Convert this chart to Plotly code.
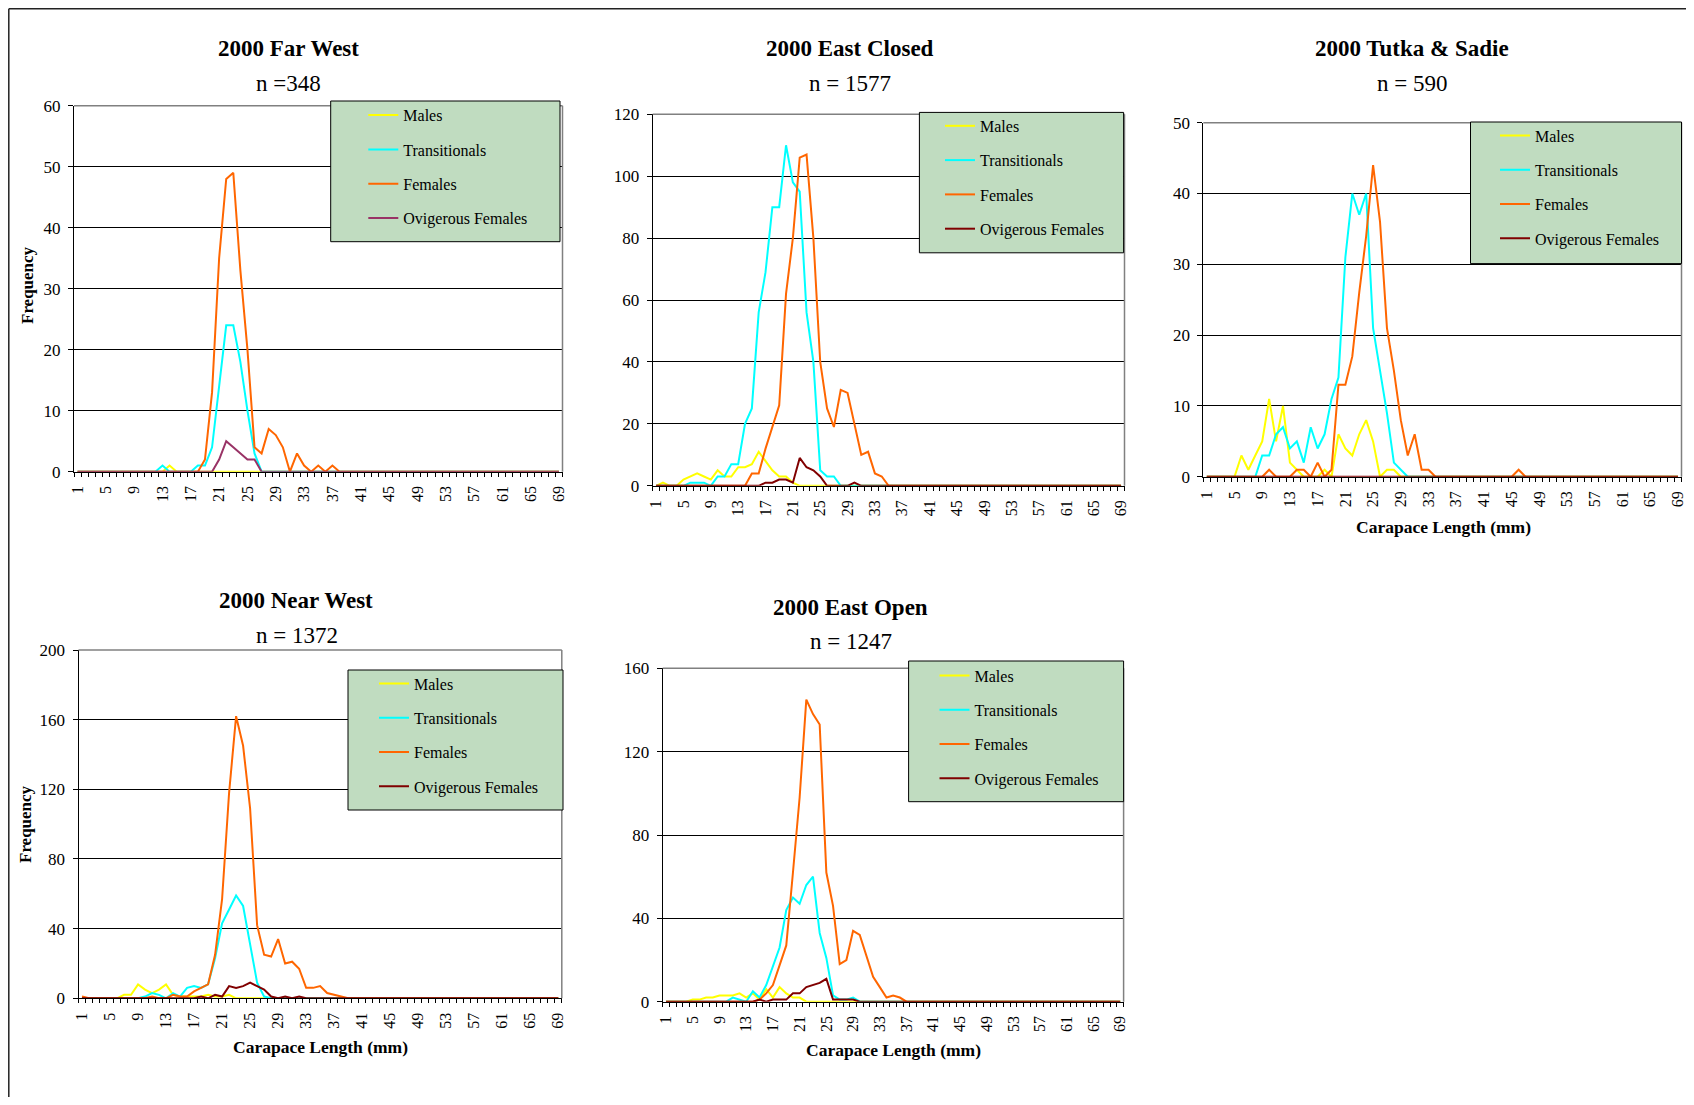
import plotly.graph_objects as go

# ---------------- data ----------------
CATEGORIES = list(range(1, 70))  # carapace length classes (mm)
TICK_VALUES = [1, 5, 9, 13, 17, 21, 25, 29, 33, 37, 41, 45, 49, 53, 57, 61, 65, 69]
TICK_LABELS = ["1", "5", "9", "13", "17", "21", "25", "29", "33", "37", "41", "45",
               "49", "53", "57", "61", "65", "69"]
SERIES_NAMES = ["Males", "Transitionals", "Females", "Ovigerous Females"]

# 2000 Far West
FW_MALES = [0,0,0,0,0,0,0,0,0,0, 0,0,0,1,0,0,0,0,0,0, 0,0,0,
            0,0,0,0,0,0,0,0,0,0, 0,0,0,0,0,0,0,0,0,0, 0,0,0,
            0,0,0,0,0,0,0,0,0,0, 0,0,0,0,0,0,0,0,0,0, 0,0,0]
FW_TRANS = [0,0,0,0,0,0,0,0,0,0, 0,0,1,0,0,0,0,1,1,4, 14,24,24,
            18,10,3,0,0,0,0,0,0,0, 0,0,0,0,0,0,0,0,0,0, 0,0,0,
            0,0,0,0,0,0,0,0,0,0, 0,0,0,0,0,0,0,0,0,0, 0,0,0]
FW_FEM = [0,0,0,0,0,0,0,0,0,0, 0,0,0,0,0,0,0,0,2,13, 35,48,49,
          33,20,4,3,7,6,4,0,3,1, 0,1,0,1,0,0,0,0,0,0, 0,0,0,
          0,0,0,0,0,0,0,0,0,0, 0,0,0,0,0,0,0,0,0,0, 0,0,0]
FW_OVIG = [0,0,0,0,0,0,0,0,0,0, 0,0,0,0,0,0,0,0,0,0, 2,5,4,
           3,2,2,0,0,0,0,0,0,0, 0,0,0,0,0,0,0,0,0,0, 0,0,0,
           0,0,0,0,0,0,0,0,0,0, 0,0,0,0,0,0,0,0,0,0, 0,0,0]

# 2000 East Closed
EC_MALES = [0,1,0,0,2,3,4,3,2,5, 3,3,6,6,7,11,8,5,3,3, 1,0,0,
            0,0,0,0,0,0,0,0,0,0, 0,0,0,0,0,0,0,0,0,0, 0,0,0,
            0,0,0,0,0,0,0,0,0,0, 0,0,0,0,0,0,0,0,0,0, 0,0,0]
EC_TRANS = [0,0,0,0,0,1,1,1,0,3, 3,7,7,20,25,56,69,90,90,110, 98,95,56,
            40,5,3,3,0,0,0,0,0,0, 0,0,0,0,0,0,0,0,0,0, 0,0,0,
            0,0,0,0,0,0,0,0,0,0, 0,0,0,0,0,0,0,0,0,0, 0,0,0]
EC_FEM = [0,0,0,0,0,0,0,0,0,0, 0,0,0,0,4,4,12,19,26,62, 80,106,107,
          80,40,25,19,31,30,20,10,11,4, 3,0,0,0,0,0,0,0,0,0, 0,0,0,
          0,0,0,0,0,0,0,0,0,0, 0,0,0,0,0,0,0,0,0,0, 0,0,0]
EC_OVIG = [0,0,0,0,0,0,0,0,0,0, 0,0,0,0,0,0,1,1,2,2, 1,9,6,
           5,3,0,0,0,0,1,0,0,0, 0,0,0,0,0,0,0,0,0,0, 0,0,0,
           0,0,0,0,0,0,0,0,0,0, 0,0,0,0,0,0,0,0,0,0, 0,0,0]

# 2000 Tutka & Sadie
TS_MALES = [0,0,0,0,0,3,1,3,5,11, 5,10,2,1,0,0,0,1,0,6, 4,3,6,
            8,5,0,1,1,0,0,0,0,0, 0,0,0,0,0,0,0,0,0,0, 0,0,0,
            0,0,0,0,0,0,0,0,0,0, 0,0,0,0,0,0,0,0,0,0, 0,0,0]
TS_TRANS = [0,0,0,0,0,0,0,0,3,3, 6,7,4,5,2,7,4,6,11,14, 31,40,37,
            40,21,15,9,2,1,0,0,0,0, 0,0,0,0,0,0,0,0,0,0, 0,0,0,
            0,0,0,0,0,0,0,0,0,0, 0,0,0,0,0,0,0,0,0,0, 0,0,0]
TS_FEM = [0,0,0,0,0,0,0,0,0,1, 0,0,0,1,1,0,2,0,1,13, 13,17,26,
          34,44,36,21,15,8,3,6,1,1, 0,0,0,0,0,0,0,0,0,0, 0,0,1,
          0,0,0,0,0,0,0,0,0,0, 0,0,0,0,0,0,0,0,0,0, 0,0,0]
TS_OVIG = [0,0,0,0,0,0,0,0,0,0, 0,0,0,0,0,0,0,0,0,0, 0,0,0,
           0,0,0,0,0,0,0,0,0,0, 0,0,0,0,0,0,0,0,0,0, 0,0,0,
           0,0,0,0,0,0,0,0,0,0, 0,0,0,0,0,0,0,0,0,0, 0,0,0]

# 2000 Near West
NW_MALES = [0,0,0,0,0,0,2,2,8,5, 3,5,8,2,1,1,1,1,2,1, 1,2,0,
            0,0,0,0,0,0,0,0,0,0, 0,0,0,0,0,0,0,0,0,0, 0,0,0,
            0,0,0,0,0,0,0,0,0,0, 0,0,0,0,0,0,0,0,0,0, 0,0,0]
NW_TRANS = [0,0,0,0,0,0,0,0,0,1, 3,2,0,3,1,6,7,6,8,23, 43,51,59,
            53,30,9,1,0,0,0,0,0,0, 0,0,0,0,0,0,0,0,0,0, 0,0,0,
            0,0,0,0,0,0,0,0,0,0, 0,0,0,0,0,0,0,0,0,0, 0,0,0]
NW_FEM = [1,0,0,0,0,0,0,0,0,0, 1,0,0,2,1,1,4,6,8,25, 57,118,162,
          145,109,42,25,24,34,20,21,17,6, 6,7,3,2,1,0,0,0,0,0, 0,0,0,
          0,0,0,0,0,0,0,0,0,0, 0,0,0,0,0,0,0,0,0,0, 0,0,0]
NW_OVIG = [0,0,0,0,0,0,0,0,0,0, 0,0,0,0,0,0,0,1,0,2, 1,7,6,
           7,9,7,5,1,0,1,0,1,0, 0,0,0,0,0,0,0,0,0,0, 0,0,0,
           0,0,0,0,0,0,0,0,0,0, 0,0,0,0,0,0,0,0,0,0, 0,0,0]

# 2000 East Open
EO_MALES = [0,0,0,0,1,1,2,2,3,3, 3,4,2,4,1,6,2,7,4,2, 2,0,0,
            0,0,0,0,0,0,0,0,0,0, 0,0,0,0,0,0,0,0,0,0, 0,0,0,
            0,0,0,0,0,0,0,0,0,0, 0,0,0,0,0,0,0,0,0,0, 0,0,0]
EO_TRANS = [0,0,0,0,0,0,0,0,0,0, 2,1,0,5,2,8,17,26,44,50, 47,56,60,
            33,21,3,1,1,2,0,0,0,0, 0,0,0,0,0,0,0,0,0,0, 0,0,0,
            0,0,0,0,0,0,0,0,0,0, 0,0,0,0,0,0,0,0,0,0, 0,0,0]
EO_FEM = [0,0,0,0,0,0,0,0,0,0, 0,0,0,0,1,4,8,17,27,62, 98,145,138,
          133,62,46,18,20,34,32,22,12,7, 2,3,2,0,0,0,0,0,0,0, 0,0,0,
          0,0,0,0,0,0,0,0,0,0, 0,0,0,0,0,0,0,0,0,0, 0,0,0]
EO_OVIG = [0,0,0,0,0,0,0,0,0,0, 0,0,0,0,1,0,1,1,1,4, 4,7,8,
           9,11,1,1,1,1,0,0,0,0, 0,0,0,0,0,0,0,0,0,0, 0,0,0,
           0,0,0,0,0,0,0,0,0,0, 0,0,0,0,0,0,0,0,0,0, 0,0,0]

PANEL_TITLES = ["2000 Far West", "2000 East Closed", "2000 Tutka & Sadie",
                "2000 Near West", "2000 East Open"]
PANEL_N = ["n =348", "n = 1577", "n = 590", "n = 1372", "n = 1247"]
PANEL_DATA = [
    [FW_MALES, FW_TRANS, FW_FEM, FW_OVIG],
    [EC_MALES, EC_TRANS, EC_FEM, EC_OVIG],
    [TS_MALES, TS_TRANS, TS_FEM, TS_OVIG],
    [NW_MALES, NW_TRANS, NW_FEM, NW_OVIG],
    [EO_MALES, EO_TRANS, EO_FEM, EO_OVIG],
]
Y_MAX = [60, 120, 50, 200, 160]
Y_STEP = [10, 20, 10, 40, 40]

# ---------------- layout / style ----------------
PAGE_W, PAGE_H = 1694, 1105
BODY_MARGIN = 8  # default browser body margin around the figure div
W, H = PAGE_W - 2 * BODY_MARGIN, PAGE_H - 2 * BODY_MARGIN
FONT = "Liberation Serif"

# plot areas in page pixels: left, top, right, bottom
PLOT_BOX = [
    (74.0, 105.7, 562.5, 471.7),
    (652.7, 114.3, 1124.5, 485.8),
    (1203.3, 122.7, 1681.5, 476.8),
    (78.5, 650.0, 561.8, 998.3),
    (662.7, 668.3, 1123.6, 1001.7),
]
# legend boxes in page pixels: left, top, right, bottom
LEGEND_BOX = [
    (330.7, 101.0, 560.0, 241.7),
    (919.4, 112.4, 1123.6, 252.8),
    (1470.5, 122.0, 1681.5, 263.6),
    (348.0, 670.0, 563.0, 810.0),
    (908.6, 661.0, 1123.6, 801.7),
]
LEGEND_TEXT_LEFT = [403.3, 980.0, 1535.0, 414.0, 974.5]
LEGEND_FIRST_Y = [115.7, 126.4, 136.0, 684.0, 676.0]

TITLE_POS = [(288, 48.5), (850, 48.5), (1412, 48.5), (296, 600.5), (850.5, 607.5)]
N_POS = [(288, 83.5), (850, 83.5), (1412, 83.5), (296.5, 635.5), (850.5, 641.5)]
FREQ_POS = [(28, 285), (25, 824)]
XTITLE_POS = [(1443, 527), (320, 1047), (893, 1050)]

SERIES_COLORS = ["#FFFF00", "#00FFFF", "#FF6600", "#800000"]
OVIG_FW_COLOR = "#993366"


def px(x):
    return (x - BODY_MARGIN) / W


def py(y):
    return 1 - (y - BODY_MARGIN) / H


fig = go.Figure()
layout = {}
shapes = []
annotations = []

minor_ticks = [c - 0.5 for c in CATEGORIES] + [CATEGORIES[-1] + 0.5]

for k in range(5):
    idx = "" if k == 0 else str(k + 1)
    xa, ya = "x" + idx, "y" + idx
    leg = "legend" + idx
    L, T, R, B = PLOT_BOX[k]

    for j, series in enumerate(PANEL_DATA[k]):
        color = SERIES_COLORS[j]
        if k == 0 and j == 3:
            color = OVIG_FW_COLOR
        fig.add_trace(go.Scatter(
            x=CATEGORIES, y=series, mode="lines", name=SERIES_NAMES[j],
            line=dict(color=color, width=2),
            xaxis=xa, yaxis=ya, legend=leg,
            legendgroup=f"p{k}s{j}", showlegend=True, hoverinfo="skip",
        ))

    layout["xaxis" + idx] = dict(
        domain=[px(L), px(R)], anchor=ya, range=[0.5, 69.5],
        tickmode="array", tickvals=TICK_VALUES, ticktext=TICK_LABELS,
        tickangle=-90, ticks="outside", ticklen=4, tickcolor="rgba(0,0,0,0)",
        ticklabelstandoff=3, automargin=False, ticklabeloverflow="allow",
        minor=dict(tickmode="array", tickvals=minor_ticks, ticks="outside",
                   ticklen=4, tickcolor="black", tickwidth=1, showgrid=False),
        showline=True, linecolor="black", linewidth=1,
        showgrid=False, zeroline=False, fixedrange=True,
        tickfont=dict(family=FONT, size=16, color="black"),
    )
    layout["yaxis" + idx] = dict(
        domain=[py(B), py(T)], anchor=xa, range=[0, Y_MAX[k]],
        tick0=0, dtick=Y_STEP[k], ticks="outside", ticklen=5,
        tickcolor="black", tickwidth=1, ticklabelstandoff=4, automargin=False,
        ticklabeloverflow="allow",
        showline=True, linecolor="black", linewidth=1,
        showgrid=True, gridcolor="black", gridwidth=1,
        zeroline=False, fixedrange=True,
        tickfont=dict(family=FONT, size=17, color="black"),
    )

    # gray plot-area border (top and right)
    shapes.append(dict(type="line", xref="paper", yref="paper",
                       x0=px(L), x1=px(R), y0=py(T), y1=py(T),
                       line=dict(color="#808080", width=1.5), layer="above"))
    shapes.append(dict(type="line", xref="paper", yref="paper",
                       x0=px(R), x1=px(R), y0=py(T), y1=py(B),
                       line=dict(color="#808080", width=1.5), layer="above"))

    # legend box
    lL, lT, lR, lB = LEGEND_BOX[k]
    shapes.append(dict(type="rect", xref="paper", yref="paper",
                       x0=px(lL), x1=px(lR), y0=py(lB), y1=py(lT),
                       fillcolor="#C0DCC0", line=dict(color="black", width=1),
                       layer="above"))
    layout[leg] = dict(
        x=px(LEGEND_TEXT_LEFT[k] - 40), y=py(LEGEND_FIRST_Y[k] - 17.5),
        xanchor="left", yanchor="top", xref="paper", yref="paper",
        bgcolor="rgba(0,0,0,0)", borderwidth=0, itemwidth=30,
        tracegroupgap=10.5, traceorder="grouped",
        font=dict(family=FONT, size=16, color="black"),
    )

    # titles
    tx, ty = TITLE_POS[k]
    annotations.append(dict(text=PANEL_TITLES[k], x=px(tx), y=py(ty),
                            xref="paper", yref="paper", showarrow=False,
                            xanchor="center", yanchor="middle",
                            font=dict(family=FONT, size=23, color="black",
                                      weight="bold")))
    nx, ny = N_POS[k]
    annotations.append(dict(text=PANEL_N[k], x=px(nx), y=py(ny),
                            xref="paper", yref="paper", showarrow=False,
                            xanchor="center", yanchor="middle",
                            font=dict(family=FONT, size=23, color="black")))

for fx, fy in FREQ_POS:
    annotations.append(dict(text="Frequency", x=px(fx), y=py(fy),
                            xref="paper", yref="paper", showarrow=False,
                            xanchor="center", yanchor="middle", textangle=-90,
                            font=dict(family=FONT, size=17, color="black",
                                      weight="bold")))
for cx, cy in XTITLE_POS:
    annotations.append(dict(text="Carapace Length (mm)", x=px(cx), y=py(cy),
                            xref="paper", yref="paper", showarrow=False,
                            xanchor="center", yanchor="middle",
                            font=dict(family=FONT, size=17.5, color="black",
                                      weight="bold")))

# outer frame (left and top edges visible)
shapes.append(dict(type="line", xref="paper", yref="paper",
                   x0=px(8.8), x1=px(8.8), y0=0, y1=py(8.8),
                   line=dict(color="#222222", width=1.5)))
shapes.append(dict(type="line", xref="paper", yref="paper",
                   x0=px(8.8), x1=1, y0=py(8.8), y1=py(8.8),
                   line=dict(color="#222222", width=1.5)))

fig.update_layout(
    width=W, height=H,
    margin=dict(l=0, r=0, t=0, b=0, pad=0, autoexpand=False),
    paper_bgcolor="white", plot_bgcolor="white",
    showlegend=True, hovermode=False,
    shapes=shapes, annotations=annotations,
    **layout,
)

fig.write_html("out.html", config={"displayModeBar": False})
